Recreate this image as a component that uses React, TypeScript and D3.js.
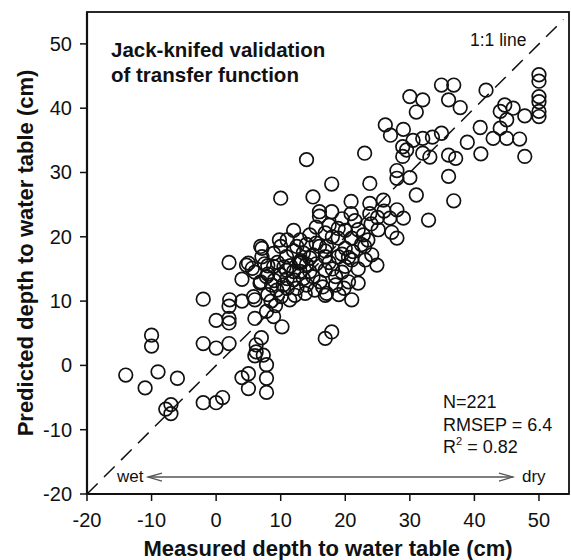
import React from 'react';
import * as d3 from 'd3';

// ---- data: [measured, predicted] ----
const wetPoints: [number, number][] = [
  [-14, -1.5], [-11, -3.5], [-10, 4.7], [-10, 3], [-9, -1], [-6, -2], [-7.8, -6.8], [-7, -6.1], [-7, -7.5],
  [-2, 10.3], [-2, 3.4], [-2, -5.8], [0, -5.8], [1, -5], [0, 2.7], [0, 7], [2, 3.4], [2, 6.6], [2, 7.3], [2, 9.2],
  [4, -1.9], [5, -1.3], [5, -3.6], [7.8, -4.2], [7.8, -2], [7.8, 0.1], [6.2, 3.2], [6.2, 2.1], [6, 1.5], [7, 4.3], [7.3, 1.6],
];
const lowPoints: [number, number][] = [
  [4, 10], [6, 10.2], [6, 7.3], [7.8, 8.4], [8.9, 7.6], [10.2, 6], [6.8, 12.8], [4, 13.4], [2.1, 10.2],
  [9.4, 11.7], [10.1, 10.7], [12.2, 10.9], [9.2, 9.3], [8, 11],
];
const centerPoints: [number, number][] = [
  [2, 16], [4.7, 15.6], [5.6, 15.1], [7.1, 18.2], [8.9, 17.4], [7.1, 16.9], [12, 21], [13, 19.5], [16.9, 20.6],
  [6.9, 18.5], [5, 15.9], [13, 16.1], [13.1, 16.3], [12.9, 15.9], [14.5, 16.7], [16.9, 17.8], [16.9, 14.8],
  [6.9, 13], [9.9, 14.1], [12, 13.3], [14, 12.5], [16.1, 13], [16.9, 10.9], [10.9, 16.9],
  [7.8, 13.8], [8.6, 12.5], [10.4, 12.5], [8.9, 15.4], [10.9, 14.8], [13, 14.6], [14.5, 14.6], [15.3, 11.7],
  [11.4, 10.2], [5.8, 10.7],
];
const midPoints: [number, number][] = [
  [18.9, 21.3], [18.9, 19.8], [21, 19.8], [22.8, 20.3], [22, 21.1], [17.1, 18.5], [20, 18.2], [21.2, 17.7],
  [24.1, 17.2], [23.1, 16.4], [24.9, 15.6], [18.9, 16.9], [16.9, 16.9], [15, 17.2], [21, 16.4], [20, 15.4],
  [18.5, 13.8], [22, 12.8], [17.1, 11.2], [21, 10.2], [20.5, 13], [23, 18.5], [25.1, 21.1], [27.2, 20.7], [28, 19.8],
];
const upperMidPoints: [number, number][] = [
  [10, 26], [15, 26.2], [16, 23.9], [16, 23.2], [17.9, 23.9], [20.9, 23.6], [23.8, 23.6], [28, 24.2], [29, 22.9],
  [26.9, 22.9], [32.9, 22.6], [20.9, 25.5], [23.8, 25.2], [25.9, 25.7], [17.9, 28.2], [23.8, 28.3], [31, 26.5],
  [36.8, 25.6], [30, 29.2], [28, 30.3], [28, 29.1], [36, 29.4], [23, 33], [14, 32],
  [17.9, 5.2], [16.9, 4.2],
];
const dryPoints: [number, number][] = [
  [26.2, 37.4], [27, 35.8], [29, 36.7], [28.9, 34], [28.9, 32.5], [30, 41.8], [32, 41.3], [31, 39.4],
  [32, 35.3], [32, 33], [33.1, 32.4], [34.9, 36.1], [34.9, 43.6], [36.8, 43.6], [36, 41.3], [37.8, 40.1],
  [36, 32.7], [37.1, 32.2], [38.9, 34.7], [40.9, 37], [41, 32.9], [41.8, 42.8], [44, 36.9], [45, 38.2],
  [46, 40], [44.7, 40.5], [44, 39.5], [47.8, 38.8], [42.9, 35.3], [45, 35.3], [47, 35.2], [47.8, 32.5],
  [50, 45.2], [50, 44.2], [50, 41.8], [50, 41], [50, 39.5], [50, 38.7],
];
const densePoints: [number, number][] = [
  [8, 15.5], [9.5, 16], [10, 18.5], [11, 19.5], [11.5, 15.5], [12, 17.8], [12.5, 18.5], [13.5, 17.5],
  [14, 18.8], [14.5, 20.3], [15.5, 19], [15.5, 15.8], [16, 18.5], [11, 13.5], [12.5, 12], [13.5, 13.5],
  [15, 13.8], [13.8, 11.2], [11, 12], [9, 13.2], [8, 14.2], [10.5, 15.3], [12, 14.6], [14, 15.7],
  [17.5, 16], [18, 15], [19.5, 17.3], [19.5, 14.5], [20.5, 16.8], [19.8, 12], [18.5, 12.5], [22, 15],
  [22.5, 18.8], [23.5, 19.5], [24, 22], [21.5, 22.5], [19.5, 22.8], [17.5, 21.8], [20, 21], [18, 20],
  [15.5, 21.5], [13.2, 16.0], [6, 14.5], [7.5, 15.8], [9.8, 19.5], [26, 24], [25, 23],
  [29.5, 33.5], [33.5, 35.5], [30.5, 35], [8.5, 10], [16.5, 12.2], [19, 11],
];

const xTicks = [-20, -10, 0, 10, 20, 30, 40, 50];
const yTicks = [-20, -10, 0, 10, 20, 30, 40, 50];
const titleLines = ['Jack-knifed validation', 'of transfer function'];
const xLabel = 'Measured depth to water table (cm)';
const yLabel = 'Predicted depth to water table (cm)';
const statN = 'N=221';
const statRmsep = 'RMSEP = 6.4';
const statR2 = '0.82';

const W = 571;
const H = 560;
const L = 87, R = 569, T = 12, B = 494;
const FONT = '"Liberation Sans", Arial, Helvetica, sans-serif';

export default function App() {
  const x = d3.scaleLinear().domain([-20, 54.65]).range([L, R]);
  const y = d3.scaleLinear().domain([-20, 54.96]).range([B, T]);
  const all = [...wetPoints, ...lowPoints, ...centerPoints, ...midPoints, ...upperMidPoints, ...dryPoints, ...densePoints];
  const lineGen = d3.line<[number, number]>().x(d => x(d[0])).y(d => y(d[1]));
  const oneToOne: [number, number][] = [[-20, -20], [53.8, 53.8]];
  const arrowY = 477;
  const ax1 = 148, ax2 = 513;
  return (
    <svg width={W} height={H} style={{ position: 'absolute', left: 0, top: 0, background: '#fff' }} fontFamily={FONT}>
      <rect x={0} y={0} width={W} height={H} fill="#fff" />
      {/* 1:1 line */}
      <path d={lineGen(oneToOne) || ''} fill="none" stroke="#111" strokeWidth={1.5} strokeDasharray="15,9" />
      {/* points */}
      {all.map((d, i) => (
        <circle key={i} cx={x(d[0])} cy={y(d[1])} r={6.8} fill="none" stroke="#111" strokeWidth={1.7} />
      ))}
      {/* frame */}
      <rect x={L} y={T} width={R - L} height={B - T} fill="none" stroke="#111" strokeWidth={1.8} />
      <line x1={L} x2={L} y1={T} y2={B} stroke="#111" strokeWidth={2.2} />
      <line x1={L} x2={R} y1={B} y2={B} stroke="#111" strokeWidth={2.2} />
      {/* x ticks */}
      {xTicks.map(t => (
        <g key={'x' + t}>
          <line x1={x(t)} x2={x(t)} y1={B} y2={B + 7} stroke="#111" strokeWidth={1.5} />
          <text x={x(t)} y={527} textAnchor="middle" fontSize={20} fill="#111">{t}</text>
        </g>
      ))}
      {/* y ticks */}
      {yTicks.map(t => (
        <g key={'y' + t}>
          <line x1={L - 7} x2={L} y1={y(t)} y2={y(t)} stroke="#111" strokeWidth={1.5} />
          <text x={72} y={y(t) + 7} textAnchor="end" fontSize={20} fill="#111">{t}</text>
        </g>
      ))}
      {/* axis labels */}
      <text x={(L + R) / 2} y={556} textAnchor="middle" fontSize={22} fontWeight="bold" fill="#111">{xLabel}</text>
      <text transform={`translate(33,${(T + B) / 2}) rotate(-90)`} textAnchor="middle" fontSize={22} fontWeight="bold" fill="#111">{yLabel}</text>
      {/* title */}
      {titleLines.map((s, i) => (
        <text key={i} x={111} y={57 + i * 25} fontSize={20.5} fontWeight="bold" fill="#111">{s}</text>
      ))}
      <text x={470} y={46} fontSize={17.5} fill="#111">1:1 line</text>
      {/* stats */}
      <text x={443} y={408} fontSize={18} fill="#111">{statN}</text>
      <text x={443} y={431} fontSize={18} fill="#111">{statRmsep}</text>
      <text x={443} y={453} fontSize={18} fill="#111">
        R<tspan fontSize={11} dy={-8}>2</tspan><tspan dy={8}>{' = ' + statR2}</tspan>
      </text>
      {/* wet/dry arrow */}
      <line x1={ax1} x2={ax2} y1={arrowY} y2={arrowY} stroke="#555" strokeWidth={1.3} />
      <polyline points={`${ax1 + 14},${arrowY - 4} ${ax1},${arrowY} ${ax1 + 14},${arrowY + 4}`} fill="none" stroke="#555" strokeWidth={1.3} />
      <polyline points={`${ax2 - 14},${arrowY - 4} ${ax2},${arrowY} ${ax2 - 14},${arrowY + 4}`} fill="none" stroke="#555" strokeWidth={1.3} />
      <text x={117} y={482} fontSize={17} fill="#111">wet</text>
      <text x={522} y={482} fontSize={17} fill="#111">dry</text>
    </svg>
  );
}
